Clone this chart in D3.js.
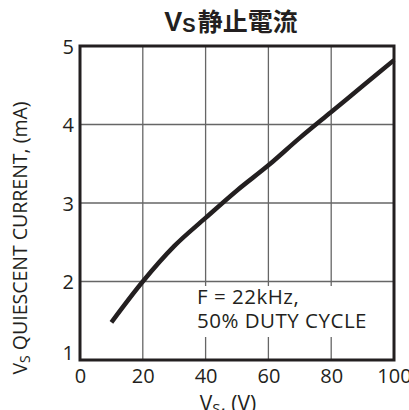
<!DOCTYPE html>
<html>
<head>
<meta charset="utf-8">
<script src="https://cdn.jsdelivr.net/npm/d3@7"></script>
<style>
  html, body { margin: 0; padding: 0; background: #fff; }
  svg { display: block; }
  text { font-family: "Open Sans", "Noto Sans", sans-serif; fill: #231f20; }
</style>
</head>
<body>
<svg id="chart" width="409" height="410"></svg>
<script>
// Supply voltage (V) and quiescent current (mA)
const supplyVoltage = [10, 20, 30, 40, 50, 60, 70, 80, 90, 100];
const quiescentCurrent = [1.48, 2.0, 2.45, 2.81, 3.16, 3.48, 3.83, 4.16, 4.49, 4.82];
const xTicks = [0, 20, 40, 60, 80, 100];
const yTicks = [1, 2, 3, 4, 5];
const noteLines = ["F = 22kHz,", "50% DUTY CYCLE"];

const svg = d3.select("#chart");
const plot = { left: 80, right: 394, top: 46, bottom: 360 };

const x = d3.scaleLinear().domain([0, 100]).range([plot.left, plot.right]);
const y = d3.scaleLinear().domain([1, 5]).range([plot.bottom, plot.top]);

// grid
const grid = svg.append("g").attr("stroke", "#666").attr("stroke-width", 1.3);
grid.selectAll("line.v").data(xTicks.slice(1, -1)).join("line")
  .attr("class", "v")
  .attr("x1", d => x(d)).attr("x2", d => x(d))
  .attr("y1", plot.top).attr("y2", plot.bottom);
grid.selectAll("line.h").data(yTicks.slice(1, -1)).join("line")
  .attr("class", "h")
  .attr("x1", plot.left).attr("x2", plot.right)
  .attr("y1", d => y(d)).attr("y2", d => y(d));

// note box masks grid behind the text
svg.append("rect")
  .attr("x", 190).attr("y", 286).attr("width", 198).attr("height", 51)
  .attr("fill", "#fff");

// axes (labels only; frame drawn separately)
const xAxis = d3.axisBottom(x).tickValues(xTicks).tickFormat(d3.format("d"))
  .tickSize(0).tickPadding(0);
const gx = svg.append("g").attr("transform", `translate(0,${plot.bottom})`).call(xAxis);
gx.select(".domain").remove();
gx.selectAll("text")
  .attr("y", 23).attr("dy", 0)
  .style("font-size", "20px").style("font-family", "'Open Sans', sans-serif")
  .attr("fill", "#231f20");

const yAxis = d3.axisLeft(y).tickValues(yTicks).tickFormat(d3.format("d"))
  .tickSize(0).tickPadding(0);
const gy = svg.append("g").attr("transform", `translate(${plot.left - 6},0)`).call(yAxis);
gy.select(".domain").remove();
gy.selectAll("text")
  .attr("x", 0)
  .attr("dy", d => d === 1 ? "-0.05em" : "0.35em")
  .style("font-size", "20px").style("font-family", "'Open Sans', sans-serif")
  .attr("fill", "#231f20");

// frame
svg.append("rect")
  .attr("x", plot.left).attr("y", plot.top)
  .attr("width", plot.right - plot.left).attr("height", plot.bottom - plot.top)
  .attr("fill", "none").attr("stroke", "#231f20").attr("stroke-width", 3);

// curve
const line = d3.line().x(d => x(d[0])).y(d => y(d[1])).curve(d3.curveMonotoneX);
svg.append("path")
  .datum(supplyVoltage.map((v, i) => [v, quiescentCurrent[i]]))
  .attr("d", line)
  .attr("fill", "none").attr("stroke", "#231f20").attr("stroke-width", 4.5);

// annotation, one text per line
svg.selectAll("text.note").data(noteLines).join("text")
  .attr("class", "note")
  .attr("x", 197).attr("y", (d, i) => 304 + i * 24)
  .style("font-size", "20.5px").style("letter-spacing", "0.5px")
  .text(d => d);

// title
const title = svg.append("text").attr("x", 231).attr("y", 31)
  .attr("text-anchor", "middle")
  .style("font-weight", "bold").style("font-size", "25px");
title.append("tspan").style("font-family", "'Liberation Sans', sans-serif")
  .style("font-size", "27px").text("V");
title.append("tspan").style("font-family", "'Liberation Sans', sans-serif")
  .style("font-size", "20px").attr("dy", 1).text("S");
title.append("tspan").style("font-family", "'Noto Sans CJK TC', sans-serif")
  .attr("dy", -1).attr("dx", 2).text("静止電流");

// x label
const xl = svg.append("text").attr("x", 228).attr("y", 411)
  .attr("text-anchor", "middle").style("font-size", "21px");
xl.append("tspan").text("V");
xl.append("tspan").style("font-size", "15px").attr("dy", 3).text("S");
xl.append("tspan").attr("dy", -3).text(", (V)");

// y label
const yl = svg.append("text")
  .attr("transform", "translate(27,238) rotate(-90)")
  .attr("text-anchor", "middle").style("font-size", "19.5px");
yl.append("tspan").text("V");
yl.append("tspan").style("font-size", "14px").attr("dy", 3).text("S");
yl.append("tspan").attr("dy", -3).text(" QUIESCENT CURRENT, (mA)");
</script>
</body>
</html>
